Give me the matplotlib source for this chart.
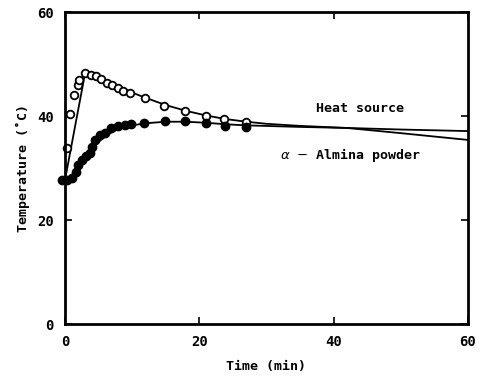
import numpy as np
import matplotlib
matplotlib.use("Agg")
import matplotlib.pyplot as plt

# measured points, heat source (open circles)
t_heat = [0.34, 0.74, 1.38, 1.89, 2.13, 2.98, 3.87, 4.57, 5.36, 6.2, 6.95, 7.85,
          8.68, 9.68, 11.9, 14.8, 17.9, 21.0, 23.7, 26.9]
T_heat = [33.8, 40.4, 44.0, 46.0, 46.9, 48.3, 47.9, 47.6, 47.1, 46.4, 46.0, 45.3,
          44.9, 44.4, 43.4, 41.9, 41.0, 40.0, 39.4, 38.9]

# measured points, alumina powder (filled circles)
t_alu = [-0.4, 0.3, 1.0, 1.6, 2.0, 2.5, 3.1, 3.7, 4.0, 4.5, 5.2, 5.9, 6.9, 7.9,
         8.9, 9.9, 11.8, 14.9, 17.9, 21.0, 23.8, 26.9]
T_alu = [27.7, 27.7, 28.0, 29.3, 30.6, 31.5, 32.3, 32.9, 34.1, 35.4, 36.3, 36.8,
         37.6, 38.1, 38.3, 38.4, 38.7, 39.0, 39.0, 38.6, 38.1, 37.9]

# calculated curves
t_heat_line = [0, 3, 5, 8, 10, 12, 15, 18, 21, 24, 27, 30, 35, 42, 50, 60]
T_heat_line = [27.7, 48.3, 47.3, 45.6, 44.5, 43.5, 42.1, 41.0, 40.1, 39.4, 38.9,
               38.5, 38.1, 37.7, 36.7, 35.4]
t_alu_line = [0, 1, 2, 3, 4, 5, 6, 7, 8, 10, 12, 15, 18, 21, 24, 27, 35, 42, 50, 60]
T_alu_line = [27.7, 28.3, 30.2, 32.0, 33.6, 35.0, 36.1, 36.9, 37.5, 38.2, 38.6,
              38.9, 38.9, 38.7, 38.4, 38.2, 37.9, 37.7, 37.4, 37.1]

font = {'family': 'DejaVu Sans Mono', 'weight': 'bold'}

fig = plt.figure(figsize=(4.8, 3.81), dpi=100)
ax = fig.add_axes([0.1354, 0.1496, 0.975 - 0.1354, 0.9685 - 0.1496])

ax.plot(t_heat_line, T_heat_line, color='black', linewidth=1.3)
ax.plot(t_alu_line, T_alu_line, color='black', linewidth=1.3)
ax.plot(t_heat, T_heat, 'o', markerfacecolor='white', markeredgecolor='black',
        markersize=5.5, markeredgewidth=1.3, clip_on=False)
ax.plot(t_alu, T_alu, 'o', color='black', markersize=6, clip_on=False)

ax.text(37.4, 41.5, 'Heat source', fontsize=9.5, va='center', **font)
ax.text(32.0, 32.5, r'$\alpha$ $-$ Almina powder', fontsize=9.5, va='center', **font)

ax.set_xlim(0, 60)
ax.set_ylim(0, 60)
ax.set_xticks([0, 20, 40, 60])
ax.set_yticks([0, 20, 40, 60])
ax.tick_params(direction='in', length=5, width=1.2, top=True, right=True,
               labelsize=10, pad=8)
for lab in ax.get_xticklabels() + ax.get_yticklabels():
    lab.set_fontfamily('DejaVu Sans Mono')
    lab.set_fontweight('bold')
for s in ax.spines.values():
    s.set_linewidth(2)

ax.set_xlabel('Time (min)', fontsize=9.5, labelpad=8, **font)
ax.set_ylabel('Temperature (\u02daC)', fontsize=9.5, labelpad=5, **font)

fig.savefig('out.png', dpi=100)
